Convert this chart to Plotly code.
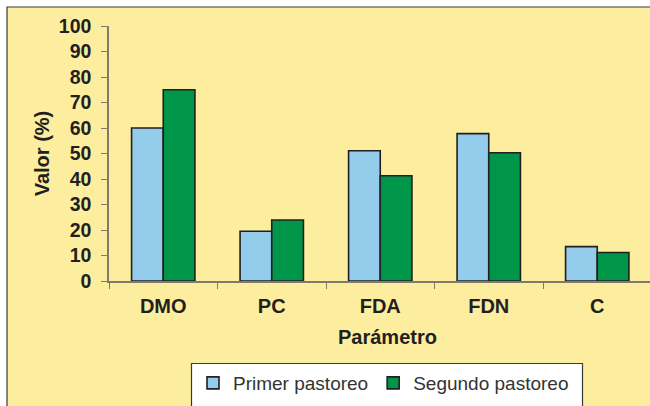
import plotly.graph_objects as go

categories = ["DMO", "PC", "FDA", "FDN", "C"]
primer = [60.0, 19.5, 51.1, 57.8, 13.5]
segundo = [75.0, 23.9, 41.3, 50.3, 11.2]
y_ticks = [0, 10, 20, 30, 40, 50, 60, 70, 80, 90, 100]

W, H = 650, 406
L, R, T, B = 109, 0, 26, 125
pw, ph = W - L - R, H - T - B

def px_x(p):
    return (p - L) / pw

def px_y(p):
    return (H - B - p) / ph

font_family = "Arial, Liberation Sans, sans-serif"
ink = "#231F20"

fig = go.Figure()
fig.add_trace(go.Bar(x=categories, y=primer, name="Primer pastoreo",
                     marker=dict(color="#93CDEB", line=dict(color=ink, width=1.6))))
fig.add_trace(go.Bar(x=categories, y=segundo, name="Segundo pastoreo",
                     marker=dict(color="#00964A", line=dict(color=ink, width=1.6))))

# yellow panel with a dark frame, and the white legend box
fig.add_shape(type="rect", xref="paper", yref="paper", layer="below",
              x0=px_x(7), x1=px_x(700), y0=px_y(450), y1=px_y(7),
              fillcolor="#FCEE9E", line=dict(color="#3a3a3a", width=1.2))
fig.add_shape(type="rect", xref="paper", yref="paper", layer="below",
              x0=px_x(191.5), x1=px_x(582.5), y0=px_y(440), y1=px_y(363.5),
              fillcolor="white", line=dict(color="#3a3a3a", width=1.2))

fig.add_annotation(text="<b>Parámetro</b>", xref="paper", yref="paper",
                   x=px_x(387.5), y=px_y(337), xanchor="center", yanchor="middle",
                   showarrow=False, font=dict(size=20, family=font_family, color=ink))

fig.update_layout(
    width=W, height=H,
    margin=dict(l=L, r=R, t=T, b=B, autoexpand=False),
    paper_bgcolor="white",
    plot_bgcolor="rgba(0,0,0,0)",
    barmode="group", bargap=0.416, bargroupgap=0,
    font=dict(family=font_family, color=ink),
    showlegend=True,
    legend=dict(orientation="h", x=px_x(193), y=px_y(364), xanchor="left", yanchor="top",
                bgcolor="rgba(0,0,0,0)", borderwidth=0,
                font=dict(size=19, color="#333333", family=font_family),
                itemwidth=30),
    xaxis=dict(range=[-0.5, 4.5 - 1.5 / 108.5], showline=True, linecolor="#807a6a", linewidth=1.5,
               ticks="outside", tickson="boundaries", ticklen=6, tickcolor="#807a6a",
               ticklabelstandoff=6,
               tickfont=dict(size=20, family=font_family, color=ink, weight="bold"),
               showgrid=False, zeroline=False, fixedrange=True),
    yaxis=dict(range=[0, 100], tickvals=y_ticks, showline=True, linecolor="#807a6a", linewidth=1.5,
               ticks="outside", ticklen=6, tickcolor="#807a6a",
               ticklabelstandoff=6,
               tickfont=dict(size=19.5, family=font_family, color=ink, weight="bold"),
               title=dict(text="<b>Valor (%)</b>", font=dict(size=20), standoff=4),
               showgrid=False, zeroline=False, fixedrange=True),
)

fig.write_html("out.html")
